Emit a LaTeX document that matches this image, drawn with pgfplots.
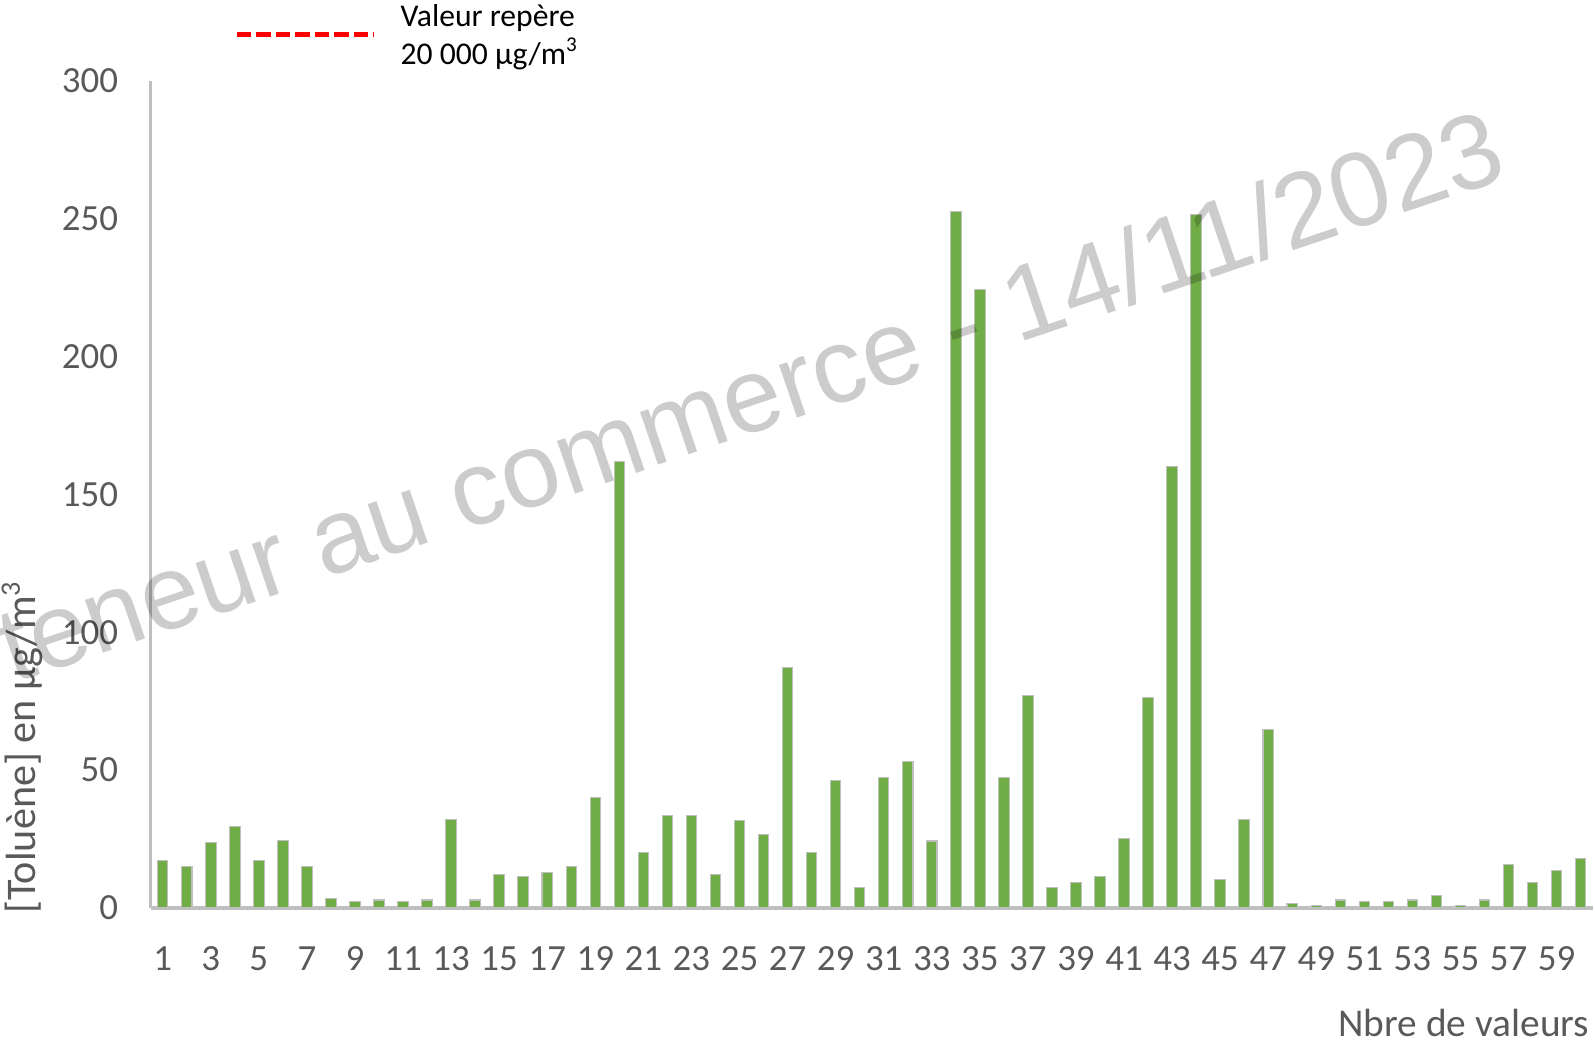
\documentclass[border=0pt]{standalone}
\usepackage{fontspec}
\setmainfont{Carlito}
\newfontfamily\wmfont{Liberation Sans}
\usepackage{pgfplots}
\pgfplotsset{compat=1.18}
\definecolor{barGreen}{HTML}{70AD47}
\definecolor{axisGray}{HTML}{BFBFBF}
\definecolor{labGray}{HTML}{595959}

\begin{document}
\begin{tikzpicture}
\path[use as bounding box, clip] (0,0) rectangle (15.95,10.52);
\begin{axis}[
  at={(1.507cm,1.44cm)}, anchor=south west,
  scale only axis,
  width=14.42cm, height=8.27cm,
  xmin=0.5, xmax=60.5,
  ymin=0, ymax=300,
  ybar, bar width=0.105cm,
  axis x line*=bottom, axis y line*=left,
  x axis line style={-, draw=axisGray, line width=0.9pt},
  y axis line style={-, draw=axisGray, line width=0.9pt},
  major tick length=0pt,
  xtick={1,3,...,59},
  ytick={0,50,...,300},
  /pgf/number format/assume math mode=true,
  tick label style={font=\fontsize{10.5}{12}\selectfont, text=labGray},
  xticklabel style={anchor=base, inner sep=0pt, yshift=-0.63cm},
  yticklabel style={anchor=east, inner sep=0pt, xshift=-0.32cm},
]
\addplot[fill=barGreen, draw=black!25, line width=0.3pt] coordinates {
(1,17.2)(2,15.0)(3,23.6)(4,29.4)(5,17.2)(6,24.4)(7,15.0)(8,3.6)(9,2.2)(10,2.9)
(11,2.2)(12,2.9)(13,32.2)(14,2.9)(15,12.2)(16,11.5)(17,12.9)(18,15.0)(19,40.0)(20,162)
(21,20.0)(22,33.6)(23,33.6)(24,12.2)(25,31.6)(26,26.5)(27,87.1)(28,20.0)(29,46.4)(30,7.3)
(31,47.2)(32,53.0)(33,24.3)(34,252.8)(35,224.4)(36,47.2)(37,77.1)(38,7.3)(39,9.4)(40,11.5)
(41,25.1)(42,76.4)(43,160.1)(44,251.7)(45,10.2)(46,32.2)(47,64.6)(48,1.5)(49,0.8)(50,2.9)
(51,2.2)(52,2.2)(53,2.9)(54,4.4)(55,0.8)(56,2.9)(57,15.7)(58,9.4)(59,13.7)(60,17.9)
};
\end{axis}

% axis titles
\node[rotate=90, text=labGray, font=\fontsize{12}{14}\selectfont] at (0.22,3.05)
  {[Toluène] en µg/m\textsuperscript{3}};
\node[anchor=base east, inner sep=0pt, text=labGray, font=\fontsize{11.2}{13}\selectfont]
  at (15.9,0.15) {Nbre de valeurs};

% legend
\draw[red, line width=0.055cm, dash pattern=on 0.145cm off 0.05cm] (2.367,10.177) -- (3.74,10.177);
\node[anchor=base west, inner sep=0pt, font=\fontsize{9}{11}\selectfont] at (4.0,10.253) {Valeur repère};
\node[anchor=base west, inner sep=0pt, font=\fontsize{9}{11}\selectfont] at (4.0,9.87) {20 000 µg/m\textsuperscript{3}};

% watermark
\node[rotate=18.7, anchor=base east, inner sep=0pt, text=black, text opacity=0.2,
  font=\wmfont\fontsize{30}{36}\selectfont] at (15.11,8.75) {teneur au commerce - 14/11/2023};
\end{tikzpicture}
\end{document}
